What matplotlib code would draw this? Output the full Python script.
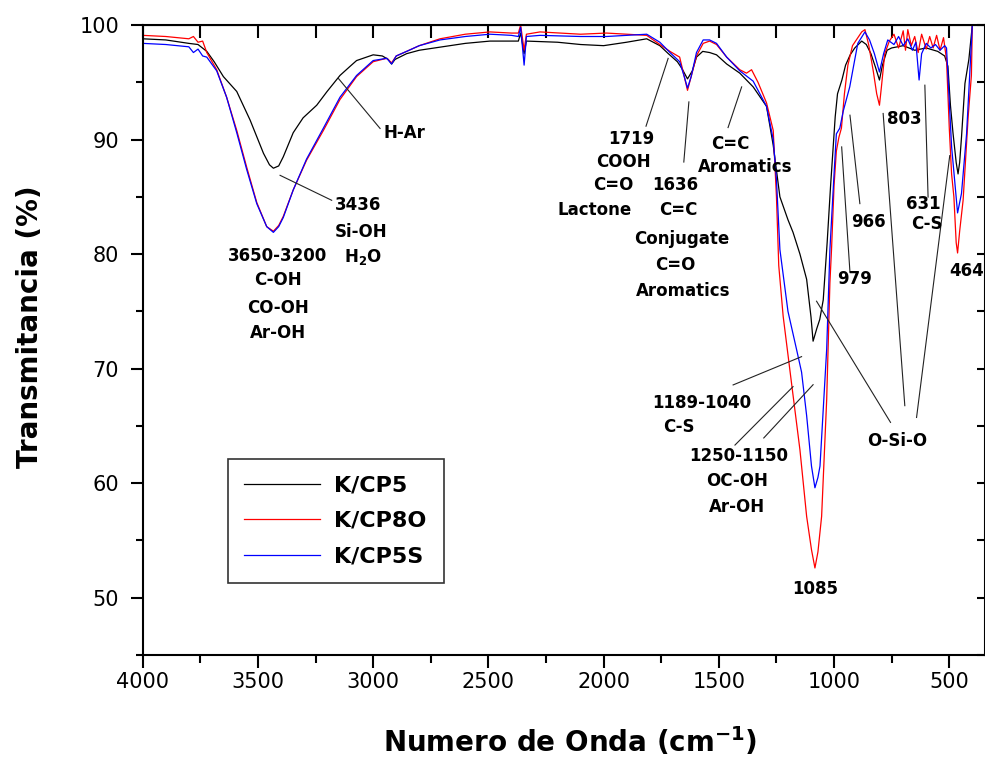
import numpy as np
import matplotlib
matplotlib.use("Agg")
from matplotlib import pyplot as plt
from matplotlib.ticker import MultipleLocator

# FTIR spectra (wavenumber cm-1, transmittance %)
wn_cp5 = [4000, 3900, 3800, 3760, 3722, 3690, 3650, 3592, 3534, 3476, 3450, 3433, 3410, 3390,
          3347, 3304, 3245, 3200, 3144, 3100, 3072, 3000, 2960, 2935, 2920, 2905, 2855, 2800,
          2700, 2600, 2493, 2400, 2370, 2360, 2345, 2335, 2200, 2100, 2000, 1900, 1813, 1756,
          1719, 1680, 1660, 1636, 1615, 1597, 1570, 1540, 1510, 1466, 1409, 1351, 1293, 1264,
          1235, 1200, 1178, 1148, 1119, 1100, 1091, 1075, 1062, 1047, 1030, 1015, 1005, 995,
          985, 966, 950, 930, 910, 880, 860, 840, 820, 803, 790, 770, 750, 700, 650, 600, 550,
          520, 506, 495, 484, 470, 462, 455, 447, 432, 415, 405, 400]
t_cp5 = [98.8, 98.7, 98.4, 98.3, 97.7, 96.8, 95.5, 94.2, 91.7, 88.8, 87.8, 87.5, 87.7, 88.5,
         90.6, 91.9, 93.0, 94.2, 95.6, 96.4, 96.9, 97.4, 97.3, 97.0, 96.6, 97.0, 97.5, 97.8,
         98.1, 98.4, 98.6, 98.6, 98.6, 99.3, 97.5, 98.6, 98.5, 98.3, 98.2, 98.5, 98.8, 98.2,
         97.5, 96.8, 96.2, 95.3, 96.0, 97.2, 97.7, 97.6, 97.4, 96.6, 95.8, 94.6, 92.9, 89.5,
         85.0, 83.0, 81.9, 80.0, 77.8, 74.5, 72.4, 73.5, 74.3, 76.0, 81.0, 86.0, 89.0, 92.0,
         94.0, 95.2, 96.5, 97.4, 98.0, 98.6, 98.3, 97.5, 96.3, 95.2, 96.5, 97.8, 98.0, 98.2,
         97.8, 98.0, 97.7, 97.3, 96.4, 93.0, 90.6, 88.0, 87.0, 88.0, 90.2, 94.9, 97.0, 99.0, 100.0]

wn_cp8o = [4000, 3900, 3800, 3780, 3760, 3740, 3722, 3679, 3636, 3592, 3549, 3505, 3462, 3433,
           3410, 3390, 3347, 3289, 3216, 3144, 3072, 3000, 2941, 2920, 2900, 2855, 2800, 2710,
           2600, 2493, 2400, 2370, 2360, 2345, 2335, 2276, 2100, 1988, 1900, 1813, 1756, 1712,
           1670, 1650, 1636, 1620, 1597, 1568, 1540, 1510, 1466, 1409, 1380, 1358, 1330, 1293,
           1264, 1250, 1240, 1221, 1185, 1148, 1119, 1098, 1083, 1070, 1054, 1032, 1018, 1011,
           1000, 990, 979, 968, 955, 940, 920, 900, 880, 866, 850, 830, 815, 803, 795, 780, 760,
           740, 720, 700, 690, 680, 665, 650, 635, 620, 600, 585, 570, 555, 540, 525, 512, 500,
           490, 480, 470, 464, 455, 440, 418, 404, 400]
t_cp8o = [99.1, 99.0, 98.8, 99.0, 98.5, 98.6, 97.6, 96.1, 93.7, 90.8, 87.6, 84.5, 82.4, 82.0,
          82.5, 83.3, 85.6, 88.2, 90.8, 93.5, 95.5, 96.8, 97.1, 96.7, 97.3, 97.7, 98.2, 98.8,
          99.2, 99.4, 99.3, 99.3, 100.0, 97.8, 99.2, 99.4, 99.2, 99.3, 99.2, 99.1, 98.3, 97.7,
          97.2, 95.5, 94.3, 95.5, 97.3, 98.4, 98.6, 98.3, 97.2, 96.1, 95.8, 96.1, 95.0, 93.2,
          90.8, 85.0, 79.0, 74.6, 68.8, 62.9, 57.1, 54.2, 52.6, 54.0, 57.1, 67.3, 77.5, 80.4,
          86.0, 89.0, 90.2, 91.0, 94.0, 96.5, 98.2, 98.8, 99.4, 99.6, 98.3, 96.0, 94.0, 93.0,
          94.5, 97.5, 98.6, 99.2, 98.0, 99.5, 97.8, 99.6, 98.2, 99.0, 97.6, 99.2, 97.9, 99.0,
          98.0, 99.1, 97.8, 98.9, 97.0, 91.0, 87.0, 85.0, 81.0, 80.1, 82.0, 84.7, 92.0, 95.6, 100.0]

wn_cp5s = [4000, 3900, 3800, 3780, 3760, 3740, 3722, 3679, 3636, 3592, 3549, 3505, 3462, 3433,
           3410, 3390, 3347, 3289, 3216, 3144, 3072, 3000, 2941, 2920, 2900, 2855, 2800, 2710,
           2600, 2493, 2400, 2370, 2360, 2345, 2335, 2276, 2100, 1988, 1900, 1813, 1756, 1712,
           1670, 1650, 1636, 1620, 1597, 1568, 1540, 1510, 1466, 1409, 1351, 1293, 1264, 1250,
           1235, 1200, 1163, 1141, 1119, 1098, 1083, 1070, 1061, 1032, 1018, 1000, 990, 975,
           960, 932, 910, 897, 866, 846, 825, 803, 785, 767, 740, 720, 700, 680, 660, 645, 631,
           620, 600, 580, 560, 540, 520, 512, 490, 464, 447, 425, 400]
t_cp5s = [98.4, 98.3, 98.1, 97.6, 97.9, 97.3, 97.2, 96.0, 93.7, 90.6, 87.4, 84.4, 82.4, 81.9,
          82.4, 83.2, 85.6, 88.3, 91.0, 93.7, 95.6, 96.9, 97.1, 96.6, 97.3, 97.7, 98.2, 98.7,
          99.0, 99.2, 99.1, 99.0, 99.8, 96.5, 99.0, 99.1, 99.0, 99.0, 99.1, 99.2, 98.5, 97.6,
          96.8, 95.5, 94.5, 95.5, 97.6, 98.7, 98.7, 98.4, 97.2, 96.0, 95.1, 92.9, 90.0, 86.5,
          80.4, 75.0, 71.7, 69.7, 65.9, 61.5, 59.6, 60.5, 61.5, 71.7, 80.4, 87.0, 90.5, 91.0,
          92.5, 94.6, 97.0, 98.4, 99.4, 98.7, 97.5, 95.9, 97.5, 98.7, 98.3, 99.0, 98.2, 98.8,
          97.8, 98.5, 95.2, 97.5, 98.4, 98.0, 98.3, 97.8, 98.2, 98.0, 89.4, 83.6, 85.3, 90.5, 100.0]

series_labels = ["K/CP5", "K/CP8O", "K/CP5S"]
series_colors = ["black", "red", "blue"]

# band labels: (text, wavenumber, transmittance, alignment)
band_texts = [
    ("H-Ar", 2955, 90.6, "left"),
    ("3436", 3066, 84.26, "center"),
    ("Si-OH", 3054, 81.92, "center"),
    ("H$_\\mathregular{2}$O", 3046, 79.74, "center"),
    ("3650-3200", 3413, 79.88, "center"),
    ("C-OH", 3413, 77.70, "center"),
    ("CO-OH", 3413, 75.34, "center"),
    ("Ar-OH", 3413, 73.15, "center"),
    ("1719", 1878, 90.09, "center"),
    ("COOH", 1916, 88.05, "center"),
    ("C=O", 1960, 86.01, "center"),
    ("Lactone", 2038, 83.88, "center"),
    ("1636", 1691, 86.01, "center"),
    ("C=C", 1676, 83.88, "center"),
    ("Conjugate", 1662, 81.35, "center"),
    ("C=O", 1691, 79.01, "center"),
    ("Aromatics", 1655, 76.82, "center"),
    ("C=C", 1452, 89.59, "center"),
    ("Aromatics", 1387, 87.61, "center"),
    ("1189-1040", 1575, 67.0, "center"),
    ("C-S", 1673, 64.93, "center"),
    ("1250-1150", 1412, 62.39, "center"),
    ("OC-OH", 1420, 60.15, "center"),
    ("Ar-OH", 1420, 57.93, "center"),
    ("1085", 1080, 50.73, "center"),
    ("O-Si-O", 724, 63.70, "center"),
    ("803", 693, 91.84, "center"),
    ("966", 852, 82.80, "center"),
    ("979", 910, 77.85, "center"),
    ("631", 613, 84.41, "center"),
    ("C-S", 599, 82.66, "center"),
    ("464", 425, 78.57, "center"),
]

# pointer lines: (wn1, t1, wn2, t2)
pointer_lines = [
    (3151, 95.34, 2970, 90.97),
    (3404, 86.88, 3180, 84.70),
    (1720, 97.09, 1816, 91.17),
    (1630, 93.29, 1652, 88.04),
    (1401, 94.60, 1460, 91.05),
    (1141, 71.05, 1438, 68.58),
    (1178, 68.43, 1430, 63.33),
    (1091, 68.60, 1305, 63.95),
    (1076, 75.89, 755, 65.31),
    (787, 92.28, 693, 66.77),
    (642, 65.74, 498, 88.6),
    (931, 92.13, 888, 84.41),
    (967, 89.36, 931, 78.42),
    (606, 94.75, 592, 84.98),
]

plt.rcParams['font.family'] = 'DejaVu Sans'
fig = plt.figure(figsize=(9.85, 7.59), dpi=100)
ax = fig.add_axes([0.1449, 0.1370, 0.8551, 0.8300])

for wn, t, lab, col in zip([wn_cp5, wn_cp8o, wn_cp5s], [t_cp5, t_cp8o, t_cp5s],
                           series_labels, series_colors):
    ax.plot(wn, t, color=col, lw=0.9, label=lab)

for x1, y1, x2, y2 in pointer_lines:
    ax.plot([x1, x2], [y1, y2], color="#222222", lw=0.8)

for txt, x, y, ha in band_texts:
    ax.text(x, y, txt, ha=ha, va="center", fontsize=12, fontweight="bold")

ax.set_xlim(4000, 345)
ax.set_ylim(45, 100)
ax.xaxis.set_major_locator(MultipleLocator(500))
ax.xaxis.set_minor_locator(MultipleLocator(250))
ax.yaxis.set_major_locator(MultipleLocator(10))
ax.yaxis.set_minor_locator(MultipleLocator(5))
ax.set_yticks([50, 60, 70, 80, 90, 100])

ax.tick_params(axis="x", which="major", direction="out", length=9, width=1.5, labelsize=15, pad=3)
ax.tick_params(axis="x", which="minor", direction="out", length=5.5, width=1.5)
ax.tick_params(axis="y", which="major", direction="out", length=9, width=1.5, labelsize=15, pad=8)
ax.tick_params(axis="y", which="minor", direction="out", length=4.7, width=1.5)

top = ax.secondary_xaxis("top")
top.xaxis.set_major_locator(MultipleLocator(250))
top.tick_params(direction="in", length=9, width=1.5, labeltop=False)
right = ax.secondary_yaxis("right")
right.yaxis.set_major_locator(MultipleLocator(10))
right.yaxis.set_minor_locator(MultipleLocator(5))
right.tick_params(which="both", direction="in", length=6, width=1.5, labelright=False)

for sp in ax.spines.values():
    sp.set_linewidth(1.5)

ax.set_xlabel("Numero de Onda (cm$^{\\mathregular{-1}}$)", fontsize=20, fontweight="bold")
ax.set_ylabel("Transmitancia (%)", fontsize=20, fontweight="bold")
ax.xaxis.set_label_coords(0.507, -0.111)
ax.yaxis.set_label_coords(-0.117, 0.521)

leg = ax.legend(loc="lower left", bbox_to_anchor=(0.101, 0.114), prop={"size": 16, "weight": "bold"},
                frameon=True, fancybox=False, edgecolor="black", handlelength=3.4,
                handletextpad=0.65, labelspacing=0.7, borderpad=0.75, borderaxespad=0)
leg.get_frame().set_linewidth(1.2)

plt.savefig("out.png", dpi=100)
